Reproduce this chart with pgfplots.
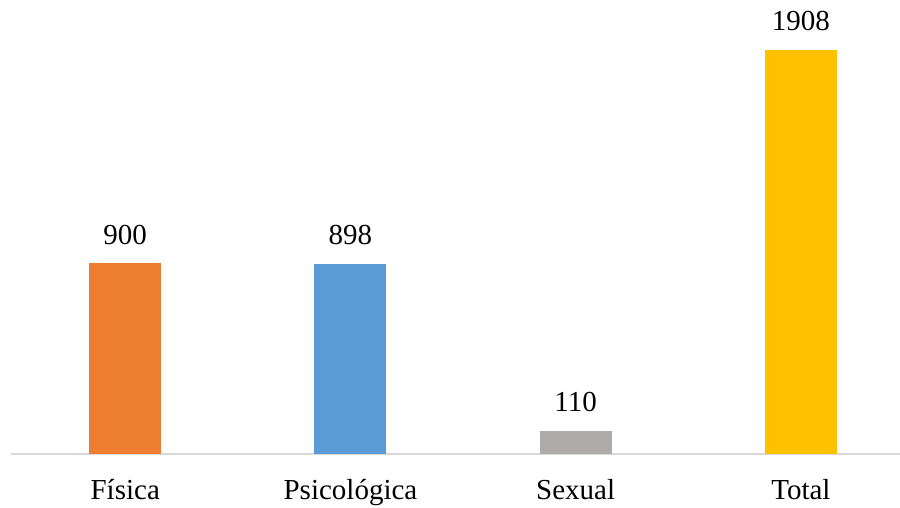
\documentclass[border=0pt]{standalone}
\usepackage{pgfplots}
\pgfplotsset{compat=1.18}
\usepackage{fontspec}
\setmainfont{Liberation Serif}
\definecolor{cOr}{HTML}{ED7D31}
\definecolor{cBl}{HTML}{5B9BD5}
\definecolor{cGr}{HTML}{AFABAB}
\definecolor{cGo}{HTML}{FFC000}
\definecolor{cAx}{HTML}{D9D9D9}
\begin{document}
\begin{tikzpicture}[x=1pt,y=1pt]
\path[use as bounding box] (0,0) rectangle (900,507);
\begin{axis}[
  at={(11.5pt,53pt)}, anchor=south west,
  scale only axis, width=888.5pt, height=454pt,
  xmin=-0.505, xmax=3.44, ymin=0, ymax=2144,
  axis x line=bottom, axis y line=none,
  x axis line style={-, draw=cAx, line width=1.5pt},
  xtick={0,1,2,3},
  xticklabels={Física,Psicológica,Sexual,Total},
  major tick length=0pt,
  xticklabel style={anchor=base, yshift=-45pt, font=\fontsize{29}{34}\selectfont},
  ybar, bar width=72pt, bar shift=0pt,
  /pgf/number format/.cd, 1000 sep={}, assume math mode=true, fixed, precision=0,
  /pgfplots/.cd,
  nodes near coords,
  nodes near coords style={anchor=base, yshift=19pt, font=\fontsize{29}{34}\selectfont, text=black},
  clip=false,
]
\addplot[fill=cOr, draw=none] coordinates {(0,900)};
\addplot[fill=cBl, draw=none] coordinates {(1,898)};
\addplot[fill=cGr, draw=none] coordinates {(2,110)};
\addplot[fill=cGo, draw=none] coordinates {(3,1908)};
\end{axis}
\end{tikzpicture}
\end{document}
